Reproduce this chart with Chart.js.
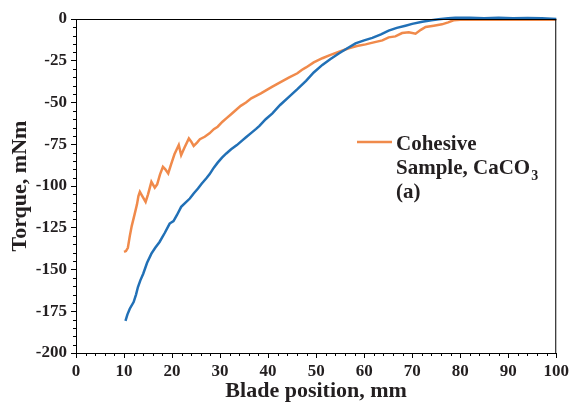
<!DOCTYPE html>
<html>
<head>
<meta charset="utf-8">
<script src="https://cdn.jsdelivr.net/npm/chart.js@4.4.1/dist/chart.umd.min.js"></script>
<style>
  body { margin: 0; background: #fff; }
  canvas { display: block; }
</style>
</head>
<body>
<canvas id="torqueChart" width="572" height="408"></canvas>
<script>
// Cohesive sample (orange)
const cohesiveX = [10.0, 10.4, 10.8, 11.2, 11.6, 12.2, 12.7, 13.0, 13.3, 13.8, 14.5, 15.0, 15.7, 16.4, 16.9, 17.5, 18.1, 18.6, 19.2, 19.8,
  20.5, 21.4, 21.9, 22.6, 23.5, 24.0, 24.5, 25.2, 25.8, 26.8, 27.8, 28.7, 29.5, 30.5, 31.3, 32.3, 33.3, 34.3, 35.4, 36.5,
  37.5, 38.5, 40.0, 40.9, 42.5, 44.4, 46.1, 47.0, 47.9, 49.5, 51.3, 53.0, 54.8, 56.8, 58.5, 60.3, 62.0, 63.8, 65.1, 66.5,
  67.9, 69.3, 70.7, 71.8, 72.8, 74.5, 76.2, 77.5, 78.6, 80, 85, 90, 95, 100];
const cohesiveY = [-139.5, -139, -137, -130, -124, -117, -111, -106, -103.5, -106, -109.5, -105, -97.5, -101, -99, -93, -88.5, -90, -92.5, -87,
  -81, -75.5, -81.5, -77, -71.5, -73.5, -76, -74, -72, -70.5, -68.5, -66, -64.5, -61.5, -59.5, -57, -54.5, -52, -50, -47.5,
  -46, -44.5, -42, -40.5, -38, -35, -32.5, -30.5, -29, -26, -23.5, -21.5, -19.6, -17.5, -16.2, -15.2, -14, -12.8, -11, -10.4,
  -8.4, -8, -8.8, -6.5, -4.8, -4, -3.2, -2, -0.8, -0.5, -0.4, -0.4, -0.4, -0.5];

// second run (blue)
const blueX = [10.3, 10.7, 11.2, 12.0, 12.5, 12.9, 13.4, 14.0, 14.8, 15.7, 16.5, 17.4, 18.5, 19.5, 20.3, 21.0, 21.9, 22.8, 23.7, 24.5,
  25.4, 26.2, 27.1, 27.8, 28.7, 29.5, 30.4, 31.3, 32.3, 33.5, 34.7, 35.4, 36.5, 37.5, 38.2, 39.5, 40.9, 42.5, 44.4, 46.1,
  47.9, 49.5, 51.3, 53.0, 54.8, 56.5, 58.2, 60.0, 61.7, 63.5, 65.1, 66.8, 68.6, 70.0, 72.1, 74.0, 75.5, 77.5, 79, 82,
  85, 88, 91, 94, 97, 99, 100];
const blueY = [-180.7, -177, -173.5, -169.5, -165, -160.5, -156.5, -152.5, -146, -140.5, -137, -133.5, -128, -122.5, -121, -117.5, -112.5, -110, -107.5, -104.5,
  -101.5, -98.5, -95.5, -93, -89, -86, -83, -80.5, -78, -75.5, -72.5, -70.8, -68.2, -65.8, -64, -60, -56.5, -51.5, -46.5, -42,
  -37, -32, -27.5, -24, -20.5, -17.5, -14.6, -12.8, -11.3, -9.2, -7, -5.3, -4, -2.9, -1.6, -0.8, -0.2, 0.4, 0.7, 0.8,
  0.5, 0.7, 0.5, 0.6, 0.4, 0.2, 0];

const xTicks = [0, 10, 20, 30, 40, 50, 60, 70, 80, 90, 100];
const yTicks = [-200, -175, -150, -125, -100, -75, -50, -25, 0];

const serif = '"Liberation Serif", "Times New Roman", serif';

function toPoints(xs, ys) {
  return xs.map((x, i) => ({ x: x, y: ys[i] }));
}

// frame, minor ticks and the in-plot legend
const extras = {
  id: 'extras',
  afterDraw(chart) {
    const ctx = chart.ctx;
    const area = chart.chartArea;
    const xs = chart.scales.x;
    const ys = chart.scales.y;
    ctx.save();
    ctx.strokeStyle = '#000';
    ctx.lineWidth = 1;
    ctx.beginPath();
    ctx.moveTo(area.left, area.top + 0.5);
    ctx.lineTo(area.right, area.top + 0.5);
    ctx.moveTo(area.right - 0.5, area.top);
    ctx.lineTo(area.right - 0.5, area.bottom);
    for (let v = 0; v <= 100; v += 2) {
      if (v % 10 === 0) continue;
      const px = Math.round(xs.getPixelForValue(v)) + 0.5;
      ctx.moveTo(px, area.bottom);
      ctx.lineTo(px, area.bottom + 3);
    }
    for (let v = -200; v <= 0; v += 5) {
      if (v % 25 === 0) continue;
      const py = Math.round(ys.getPixelForValue(v)) + 0.5;
      ctx.moveTo(area.left, py);
      ctx.lineTo(area.left - 3, py);
    }
    ctx.stroke();

    // legend
    ctx.strokeStyle = '#F08A4B';
    ctx.lineWidth = 2.5;
    ctx.beginPath();
    ctx.moveTo(357, 142);
    ctx.lineTo(392, 142);
    ctx.stroke();
    ctx.fillStyle = '#231F20';
    ctx.textBaseline = 'alphabetic';
    ctx.font = 'bold 21px ' + serif;
    ctx.fillText('Cohesive', 396, 150);
    ctx.fillText('Sample, CaCO', 396, 174);
    const w = ctx.measureText('Sample, CaCO').width;
    ctx.fillText('(a)', 396, 198);
    ctx.font = 'bold 14px ' + serif;
    ctx.fillText('3', 396 + w + 1, 180);
    ctx.restore();
  }
};

new Chart(document.getElementById('torqueChart'), {
  type: 'scatter',
  data: {
    datasets: [
      {
        label: 'Run 2',
        data: toPoints(blueX, blueY),
        showLine: true,
        borderColor: '#2170B6',
        borderWidth: 2.5,
        pointRadius: 0,
        clip: 4
      },
      {
        label: 'Cohesive Sample, CaCO3 (a)',
        data: toPoints(cohesiveX, cohesiveY),
        showLine: true,
        borderColor: '#F08A4B',
        borderWidth: 2.5,
        pointRadius: 0,
        clip: 4
      }
    ]
  },
  options: {
    responsive: false,
    animation: false,
    layout: { padding: { top: 19, right: 14, left: 0, bottom: 0 } },
    plugins: {
      legend: { display: false },
      tooltip: { enabled: false }
    },
    scales: {
      x: {
        type: 'linear',
        min: 0,
        max: 100,
        afterBuildTicks: (s) => { s.ticks = xTicks.map(v => ({ value: v })); },
        afterFit: (s) => { s.height = 55; },
        ticks: { color: '#231F20', font: { family: serif, size: 17, weight: 'bold' }, padding: 3, maxRotation: 0 },
        grid: { drawOnChartArea: false, tickLength: 5, tickColor: '#000' },
        border: { color: '#000', width: 1 },
        title: {
          display: true,
          text: 'Blade position, mm',
          color: '#231F20',
          font: { family: serif, size: 22, weight: 'bold' },
          padding: { top: 0, bottom: 3 }
        }
      },
      y: {
        min: -200,
        max: 0,
        afterBuildTicks: (s) => { s.ticks = yTicks.map(v => ({ value: v })); },
        afterFit: (s) => { s.width = 76; },
        ticks: { color: '#231F20', font: { family: serif, size: 17, weight: 'bold' }, padding: 4 },
        grid: { drawOnChartArea: false, tickLength: 5, tickColor: '#000' },
        border: { color: '#000', width: 1 },
        title: {
          display: true,
          text: 'Torque, mNm',
          color: '#231F20',
          font: { family: serif, size: 22, weight: 'bold' },
          padding: { top: 7, bottom: 0 }
        }
      }
    }
  },
  plugins: [extras]
});
</script>
</body>
</html>
